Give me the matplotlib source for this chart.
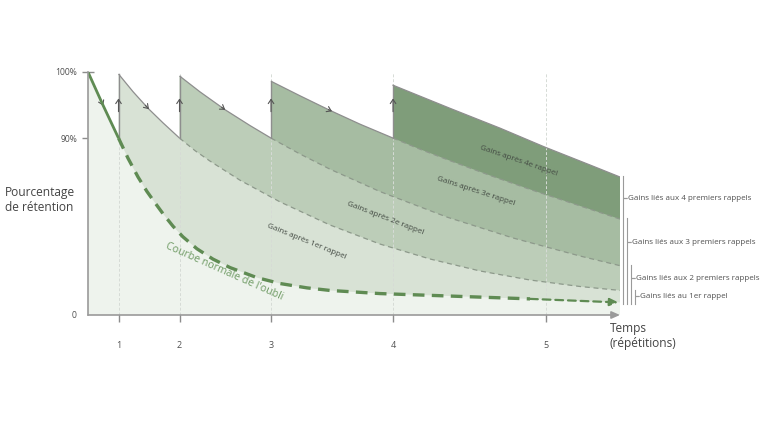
import numpy as np
import matplotlib
matplotlib.use("Agg")
import matplotlib.pyplot as plt
from matplotlib.transforms import offset_copy

plt.rcParams['font.family'] = ['Open Sans', 'DejaVu Sans']

# ---------------- data ----------------
review_times = [1, 3, 6, 10, 15]
review_labels = ['1', '2', '3', '4', '5']
ytick_values = [0, 90, 100]
ytick_labels = ['0', '90%', '100%']

# normal forgetting curve
t0 = [0, 0.49, 1, 1.31, 1.64, 1.93, 2.20, 2.46, 2.79, 3.11, 3.57, 4.10, 4.66,
      5.54, 6.30, 7.18, 7.93, 9.57, 11.21, 14.49, 17.44]
r0 = [100, 95.0, 90, 79.8, 70.2, 62.9, 57.0, 51.5, 45.1, 39.8, 33.7, 28.4, 24.1,
      19.0, 16.0, 13.8, 12.5, 10.9, 10.0, 8.2, 6.4]
# after 1st review
t1 = [1, 1.48, 1.97, 2.46, 3, 3.51, 4.0, 4.98, 6.30, 7.93, 9.57, 11.21, 12.85,
      14.49, 16.13, 17.44]
r1 = [99.7, 97.0, 94.5, 92.3, 90, 83.6, 78.3, 68.6, 57.5, 45.8, 36.1, 28.5, 22.4,
      17.8, 14.5, 12.5]
# after 2nd review
t2 = [3, 3.67, 4.49, 5.31, 6, 6.95, 7.93, 9.57, 11.77, 13.93, 16.13, 17.44]
r2 = [99.4, 97.0, 94.3, 91.9, 90, 81.9, 74.2, 62.8, 49.8, 39.2, 30.0, 25.1]
# after 3rd review
t3 = [6, 6.95, 7.93, 8.92, 10, 10.89, 11.87, 13.18, 14.49, 16.13, 17.44]
r3 = [98.6, 96.4, 94.2, 92.1, 90, 84.3, 78.5, 71.0, 63.9, 55.5, 48.8]
# after 4th review
t4 = [10, 11.87, 13.51, 14.98, 16.46, 17.44]
r4 = [98.0, 94.5, 91.5, 85.4, 76.3, 70.2]

band_labels = ['Gains après 1er rappel', 'Gains après 2e rappel',
               'Gains après 3e rappel', 'Gains après 4e rappel']
bracket_labels = ['Gains liés au 1er rappel', 'Gains liés aux 2 premiers rappels',
                  'Gains liés aux 3 premiers rappels', 'Gains liés aux 4 premiers rappels']
curve_label = "Courbe normale de l'oubli"

# ---------------- style ----------------
base_color = '#eef3ed'
band_colors = ['#d8e2d5', '#bccdb8', '#a6bca2', '#7f9d7a']
green = '#5f8b53'
gray = '#8e8e8e'
txt = '#505050'

# display scale: 0-90% uses 72.8% of the height, 90-100% the rest
B = 0.728
K1, K2 = B / 90.0, (1 - B) / 10.0


def fwd(r):
    r = np.asarray(r, float)
    return np.where(r <= 90, r * K1, 90 * K1 + (r - 90) * K2)


def inv(v):
    v = np.asarray(v, float)
    return np.where(v <= B, v / K1, 90 + (v - B) / K2)


fig = plt.figure(figsize=(7.68, 4.21), dpi=100)
ax = fig.add_axes([88 / 768, 106 / 421, 532 / 768, 243 / 421])
ax.set_yscale('function', functions=(fwd, inv))
ax.set_xlim(0, 17.44)
ax.set_ylim(0, 100)

curves = [(t0, r0), (t1, r1), (t2, r2), (t3, r3), (t4, r4)]

# fills, drawn top band first, lower ones over it
for k in range(4, 0, -1):
    t, r = np.array(curves[k][0]), np.array(curves[k][1])
    ax.fill(np.r_[t, t[-1], t[0]], np.r_[r, 0, 0], color=band_colors[k - 1],
            lw=0, zorder=1 + (4 - k))
t, r = np.array(t0), np.array(r0)
ax.fill(np.r_[t, t[-1], t[0]], np.r_[r, 0, 0], color=base_color, lw=0, zorder=6)

# faint vertical guides
ax.vlines(review_times, 0, 100, color='#d6dbd6', lw=0.7, ls=(0, (3, 2)), zorder=7)

# curve edges
for k in range(1, 5):
    t, r = np.array(curves[k][0]), np.array(curves[k][1])
    tk = review_times[k - 1]
    if k < 4:
        tn = review_times[k]
        m = t <= tn
        ax.plot(t[m], r[m], color=gray, lw=0.9, zorder=9, solid_capstyle='butt')
        m2 = t >= tn
        ax.plot(t[m2], r[m2], color='#8d998b', lw=0.9, ls=(0, (4, 3)), zorder=9)
    else:
        ax.plot(t, r, color=gray, lw=0.9, zorder=9)
    tb, rb = curves[k - 1]
    bot = np.interp(tk, tb, rb)
    ax.plot([tk, tk], [bot, r[0]], color=gray, lw=1.0, zorder=9)
    # up arrow on the jump
    ax.annotate('', xy=(tk, 96.0), xytext=(tk, 94.0),
                arrowprops=dict(arrowstyle='->,head_length=0.3,head_width=0.2',
                                color='#555555', lw=0.8, shrinkA=0, shrinkB=0),
                zorder=10)

# curve-direction arrows
for k, tm in [(0, 0.5), (1, 2.0), (2, 4.5), (3, 8.0)]:
    tc, rc = curves[k]
    ta = tm - 0.12
    ax.annotate('', xy=(tm, np.interp(tm, tc, rc)),
                xytext=(ta, np.interp(ta, tc, rc)),
                arrowprops=dict(arrowstyle='->,head_length=0.3,head_width=0.2',
                                color='#555555', lw=0.8, shrinkA=0, shrinkB=0),
                zorder=10)

# normal forgetting curve
t, r = np.array(t0), np.array(r0)
m = t <= review_times[0]
ax.plot(t[m], r[m], color=green, lw=2.0, zorder=11, solid_capstyle='butt')
m2 = t >= review_times[0]
ax.plot(t[m2][:-1], r[m2][:-1], color=green, lw=2.4, ls=(0, (3.5, 2.2)), zorder=11)
ax.annotate('', xy=(t[-1] - 0.05, r[-1]), xytext=(t[-2], r[-2]),
            arrowprops=dict(arrowstyle='-|>,head_length=0.5,head_width=0.22',
                            color=green, lw=1.6, ls=(0, (3.5, 2.2)),
                            shrinkA=0, shrinkB=0), zorder=11)

# axes
for s in ['top', 'right', 'bottom']:
    ax.spines[s].set_visible(False)
ax.spines['left'].set_color('#9a9a9a')
ax.spines['left'].set_linewidth(1.2)
ax.spines['left'].set_zorder(12)
ax.annotate('', xy=(1.0, 0), xytext=(0, 0), xycoords='axes fraction',
            arrowprops=dict(arrowstyle='-|>,head_length=0.5,head_width=0.22',
                            color='#9a9a9a', lw=1.2, shrinkA=0, shrinkB=0),
            zorder=12)

ax.set_xticks(review_times)
ax.set_xticklabels(review_labels)
ax.set_yticks(ytick_values)
ax.set_yticklabels(ytick_labels)
ax.yaxis.set_minor_locator(matplotlib.ticker.NullLocator())
ax.tick_params(axis='x', direction='inout', length=10, width=1.0, color='#8c8c8c',
               pad=14, labelsize=6.5, labelcolor=txt)
ax.tick_params(axis='y', direction='inout', length=8, width=1.0, color='#8c8c8c',
               pad=4, labelsize=6.2, labelcolor=txt)
ax.yaxis.get_major_ticks()[0].tick1line.set_visible(False)

# labels in the bands
band_text_pos = [(7.15, 37.1, -22), (9.74, 49.3, -21), (12.72, 63.1, -18), (14.13, 78.3, -19)]
for lab, (x, y, rot) in zip(band_labels, band_text_pos):
    ax.text(x, y, lab, fontsize=5.8, color='#434a43', rotation=rot,
            rotation_mode='anchor', ha='center', va='center', zorder=14)
ax.text(4.46, 21.9, curve_label, fontsize=7.6, color='#6e9a63', rotation=-24,
        rotation_mode='anchor', ha='center', va='center', zorder=14)

# right-hand brackets
ytr = ax.get_yaxis_transform()
bottom_end = r0[-1] - 1.0
for k in range(4, 0, -1):
    top = curves[k][1][-1]
    below = curves[k - 1][1][-1]
    mid = (top + below) / 2
    dx = 3 + (4 - k) * 4
    tr = offset_copy(ytr, fig=fig, x=dx, y=0, units='dots')
    ax.plot([1.0, 1.0], [bottom_end, top + 0.3], transform=tr, color='#9a9a9a',
            lw=0.8, clip_on=False, zorder=14)
    tr2 = offset_copy(ytr, fig=fig, x=dx + 2, y=0, units='dots')
    ax.plot([1.0, 1.0], [mid, mid], transform=tr2, color='#9a9a9a', marker='_',
            ms=3, mew=0.8, clip_on=False, zorder=14)
    tr3 = offset_copy(ytr, fig=fig, x=dx + 5, y=0, units='dots')
    ax.text(1.0, mid, bracket_labels[k - 1], transform=tr3, fontsize=5.8,
            color=txt, ha='left', va='center', clip_on=False)

# axis titles
fig.text(5 / 768, 1 - 200 / 421, 'Pourcentage\nde rétention', fontsize=8.6,
         color='#444444', ha='left', va='center', linespacing=1.25)
fig.text(610 / 768, 1 - 336 / 421, 'Temps\n(répétitions)', fontsize=8.6,
         color='#444444', ha='left', va='center', linespacing=1.2)

fig.savefig('out.png', dpi=100)
